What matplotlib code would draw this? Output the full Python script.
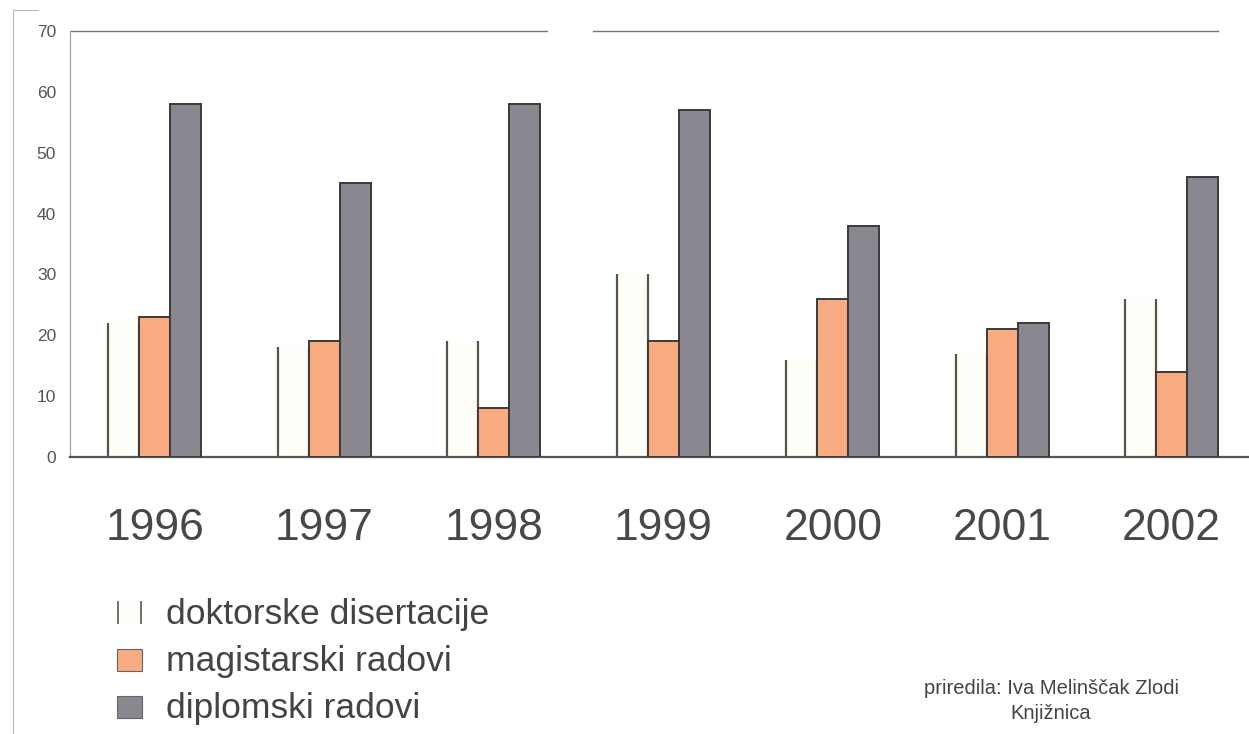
import numpy as np
import matplotlib
matplotlib.use("Agg")
import matplotlib.pyplot as plt
from matplotlib.patches import Rectangle
from matplotlib.lines import Line2D

plt.rcParams['font.family'] = ['Liberation Sans', 'DejaVu Sans']

# broj radova po godinama
godine = ['1996', '1997', '1998', '1999', '2000', '2001', '2002']
doktorske = [22, 18, 19, 30, 16, 17, 26]
magistarski = [23, 19, 8, 19, 26, 21, 14]
diplomski = [58, 45, 58, 57, 38, 22, 46]
nazivi = ['doktorske disertacije', 'magistarski radovi', 'diplomski radovi']

W, H = 1249, 734
fig = plt.figure(figsize=(W / 100, H / 100), dpi=100)
fig.patch.set_facecolor('white')


def fx(x):
    return x / W


def fy(y):
    return 1 - y / H


ax = fig.add_axes([fx(70), fy(457), fx(1186.5), fy(31) - fy(457)])
ax.set_facecolor('white')

x = np.arange(len(godine))
bw = 0.183
edge = '#3c3a38'
c_dok = '#fffffa'
c_mag = '#f8aa80'
c_dip = '#8b8790'

# doktorske: samo bočne linije, bez gornjeg ruba
ax.bar(x - bw, doktorske, bw, color=c_dok, linewidth=0, zorder=2)
ax.vlines(x - 1.5 * bw, 0, doktorske, color='#55554a', lw=1.6, zorder=3)
ax.vlines(x - 0.5 * bw, 0, doktorske, color='#55554a', lw=1.6, zorder=3)
ax.bar(x, magistarski, bw, color=c_mag, edgecolor=edge, linewidth=1.4, zorder=3)
ax.bar(x + bw, diplomski, bw, color=c_dip, edgecolor=edge, linewidth=1.4, zorder=3)

ax.set_xlim(-0.5, len(godine) - 0.5)
ax.set_ylim(0, 70)
ax.set_yticks(range(0, 71, 10))
ax.tick_params(axis='y', length=0, pad=10, labelsize=12.5, labelcolor='#555555')
ax.set_xticks(x)
ax.set_xticklabels(godine, fontsize=32, color='#484848')
ax.tick_params(axis='x', length=0, pad=37)

for s in ['right', 'top']:
    ax.spines[s].set_visible(False)
ax.spines['left'].set_color('#999999')
ax.spines['left'].set_linewidth(0.8)
ax.spines['bottom'].set_color('#555555')
ax.spines['bottom'].set_linewidth(1.6)

# gornji rub okvira (s prekidom)
for a, b in [(71, 547), (593, 1218)]:
    fig.add_artist(Line2D([fx(a), fx(b)], [fy(31), fy(31)], color='#777777', lw=1.0))

# rub stranice lijevo
fig.add_artist(Line2D([fx(13), fx(13)], [fy(10), fy(734)], color='#bbbbbb', lw=0.8))
fig.add_artist(Line2D([fx(13), fx(38)], [fy(10), fy(10)], color='#bbbbbb', lw=0.8))

# legenda
baselines = [624, 671, 718]
for naziv, boja, yb in zip(nazivi, [c_dok, c_mag, c_dip], baselines):
    if boja == c_dok:
        fig.add_artist(Rectangle((fx(117), fy(yb)), fx(25), fy(yb - 22) - fy(yb),
                                 facecolor=c_dok, edgecolor='none'))
        for xl in (118, 141):
            fig.add_artist(Line2D([fx(xl), fx(xl)], [fy(yb - 1), fy(yb - 22)],
                                  color='#666660', lw=1.3))
    else:
        fig.add_artist(Rectangle((fx(117), fy(yb)), fx(25), fy(yb - 22) - fy(yb),
                                 facecolor=boja, edgecolor='#666666', lw=0.8))
    fig.text(fx(166), fy(yb), naziv, fontsize=25.5, color='#444444',
             ha='left', va='baseline')

fig.text(fx(1051), fy(694), 'priredila: Iva Melinščak Zlodi', fontsize=14.5,
         color='#444444', ha='center', va='baseline')
fig.text(fx(1051), fy(719), 'Knjižnica', fontsize=14.5,
         color='#444444', ha='center', va='baseline')

fig.savefig('out.png', dpi=100, facecolor='white')
